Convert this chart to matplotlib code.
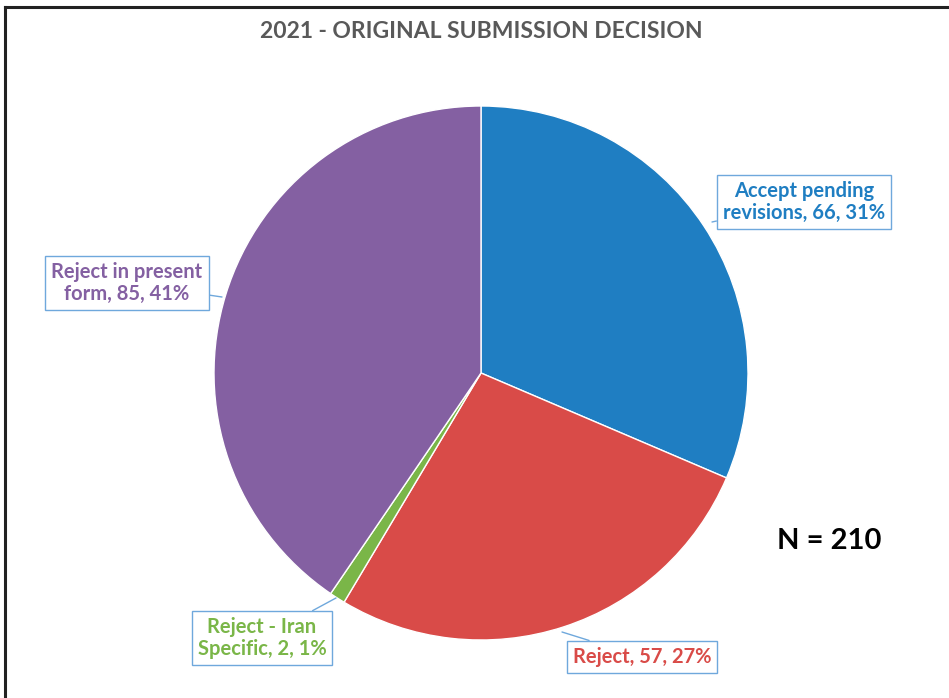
import matplotlib
matplotlib.use("Agg")
import matplotlib.pyplot as plt
from matplotlib.lines import Line2D

categories = ["Accept pending\nrevisions", "Reject", "Reject - Iran\nSpecific", "Reject in present\nform"]
counts = [66, 57, 2, 85]
percents = [31, 27, 1, 41]
colors = ["#1f7ec2", "#d94b48", "#7ab648", "#8460a2"]
title = "2021 - ORIGINAL SUBMISSION DECISION"
note = "N = 210"

W, H = 949, 698
fig = plt.figure(figsize=(W / 100, H / 100), dpi=100)
fig.patch.set_facecolor("white")

# frame lines (top and left)
fig.add_artist(Line2D([5 / W, 1.0], [1 - 7 / H, 1 - 7 / H], color="#222222", lw=2.2, transform=fig.transFigure))
fig.add_artist(Line2D([5 / W, 5 / W], [0, 1 - 7 / H], color="#222222", lw=2.2, transform=fig.transFigure))

cx, cy, r = 481, 373, 267
ax = fig.add_axes([(cx - r) / W, (H - cy - r) / H, 2 * r / W, 2 * r / H])
wedges, _ = ax.pie(counts, colors=colors, startangle=90, counterclock=False, radius=1,
                   wedgeprops=dict(edgecolor="white", linewidth=1))
ax.set_xlim(-1, 1)
ax.set_ylim(-1, 1)
ax.set_aspect("equal")
ax.axis("off")

fig.text(481 / W, 1 - 32 / H, title, ha="center", va="center", fontsize=16.5,
         fontweight="bold", color="#595959", family="Lato")

def px(x, y):
    return (x / W, 1 - y / H)

# label centers (pixels) and anchor points on pie (pixels)
label_pos = [(804, 202), (642, 657), (262, 638), (127, 283)]
anchor_pts = [(712, 222), (562, 632), (336, 598), (222, 297)]
edge = "#6fa8dc"
for i in range(len(counts)):
    txt = f"{categories[i]}, {counts[i]}, {percents[i]}%"
    ax.annotate(txt, xy=px(*anchor_pts[i]), xycoords="figure fraction",
                xytext=px(*label_pos[i]), textcoords="figure fraction",
                ha="center", va="center", fontsize=14.5, fontweight="bold",
                color=colors[i], family="Lato", linespacing=1.1,
                bbox=dict(boxstyle="square,pad=0.3", fc="white", ec=edge, lw=1),
                arrowprops=dict(arrowstyle="-", color=edge, lw=1, shrinkA=0, shrinkB=0))

fig.text(829 / W, 1 - 541 / H, note, ha="center", va="center", fontsize=21,
         fontweight="bold", color="black", family="Lato")

fig.savefig("out.png", dpi=100)
